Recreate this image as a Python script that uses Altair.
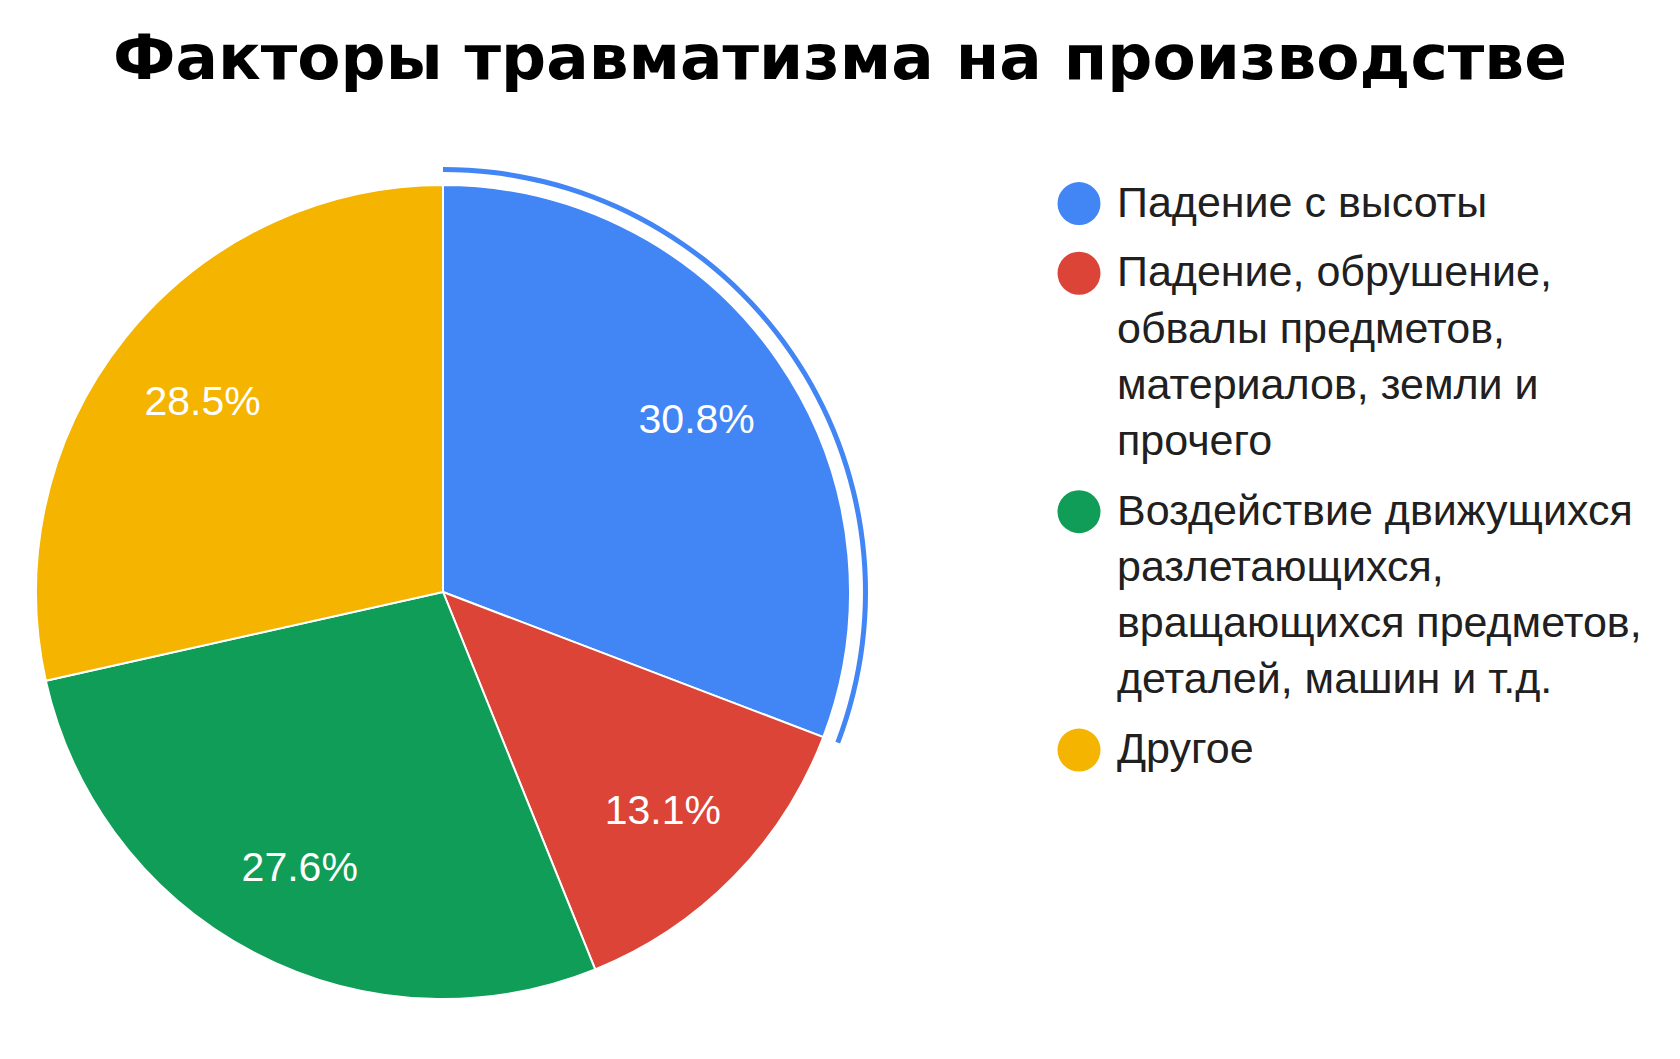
import altair as alt
import pandas as pd

# ---- data ----
categories = [
    "Падение с высоты",
    "Падение, обрушение, обвалы предметов, материалов, земли и прочего",
    "Воздействие движущихся разлетающихся, вращающихся предметов, деталей, машин и т.д.",
    "Другое",
]
values = [30.8, 13.1, 27.6, 28.5]
legend_lines = [
    ["Падение с высоты"],
    ["Падение, обрушение,", "обвалы предметов,", "материалов, земли и", "прочего"],
    ["Воздействие движущихся", "разлетающихся,", "вращающихся предметов,", "деталей, машин и т.д."],
    ["Другое"],
]
colors = ["#4285F4", "#DB4437", "#0F9D58", "#F4B400"]
title_text = "Факторы травматизма на производстве"

# ---- layout constants ----
TOP = 150
CX, CY = 443, 592 - TOP
R = 407
LINE_H = 56.25
ITEM_GAP = 13.4 / 56.25
LEG_Y0 = 203.6 - TOP

df = pd.DataFrame({
    "cat": categories,
    "value": values,
    "idx": list(range(len(categories))),
    "label": [f"{v:.1f}%" for v in values],
})

rows = []
pos = 0.0
for i, lines in enumerate(legend_lines):
    for j, line in enumerate(lines):
        rows.append({"cat": categories[i], "line": line, "pos": pos, "first": j == 0})
        pos += 1
    pos += ITEM_GAP
legdf = pd.DataFrame(rows)

color_scale = alt.Scale(domain=categories, range=colors)
yscale = alt.Scale(domain=[0, 1], range=[LEG_Y0, LEG_Y0 + LINE_H], zero=False, nice=False)

base = alt.Chart(df).encode(
    theta=alt.Theta("value:Q", stack=True),
    order=alt.Order("idx:Q"),
    x=alt.value(CX),
    y=alt.value(CY),
)

highlight = base.mark_arc(radius=R + 13, radius2=R + 18).encode(
    color=alt.Color("cat:N", scale=color_scale, legend=None),
    opacity=alt.condition(alt.datum.idx == 0, alt.value(1), alt.value(0)),
)

pie = base.mark_arc(radius=R, stroke="white", strokeWidth=2).encode(
    color=alt.Color("cat:N", scale=color_scale, legend=None),
)

labels = base.mark_text(
    radius=308, font="Liberation Sans", fontSize=41, color="white",
    align="center", baseline="middle", dy=4,
).encode(text="label:N")

dots = alt.Chart(legdf[legdf["first"]]).mark_point(
    filled=True, shape="circle", size=1850, opacity=1
).encode(
    x=alt.value(1079),
    y=alt.Y("pos:Q", scale=yscale, axis=None),
    color=alt.Color("cat:N", scale=color_scale, legend=None),
)

texts = alt.Chart(legdf).mark_text(
    align="left", baseline="middle", font="Liberation Sans", fontSize=43, color="#202020"
).encode(
    x=alt.value(1117),
    y=alt.Y("pos:Q", scale=yscale, axis=None),
    text="line:N",
)

chart = alt.layer(highlight, pie, labels, dots, texts).properties(
    width=1680,
    height=1059 - TOP,
    autosize="none",
    background="white",
    padding={"top": TOP, "left": 0, "right": 0, "bottom": 0},
    title=alt.Title(
        title_text, font="DejaVu Sans", fontWeight="bold", fontSize=63, color="black",
        anchor="middle", frame="group", baseline="alphabetic", offset=8,
    ),
).configure_view(stroke=None, strokeWidth=0)

chart.save("out.html", embed_options={"renderer": "svg", "actions": False})
